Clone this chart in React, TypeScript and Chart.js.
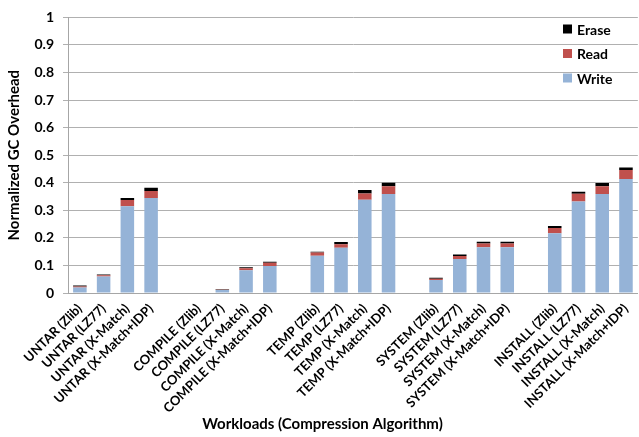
import React, { useEffect, useRef } from "react";
import { Chart, registerables } from "chart.js";

Chart.register(...registerables);

const workloads = ["UNTAR", "COMPILE", "TEMP", "SYSTEM", "INSTALL"];
const algorithms = ["Zlib", "LZ77", "X-Match", "X-Match+IDP"];

// values per workload (4 algorithms each), in order of workloads
const writeValues = [
  0.02, 0.06, 0.315, 0.345,
  0, 0.011, 0.083, 0.098,
  0.135, 0.164, 0.338, 0.359,
  0.047, 0.123, 0.166, 0.166,
  0.217, 0.332, 0.359, 0.414,
];
const readValues = [
  0.004, 0.004, 0.022, 0.025,
  0, 0.001, 0.007, 0.012,
  0.012, 0.013, 0.023, 0.028,
  0.005, 0.011, 0.014, 0.014,
  0.019, 0.028, 0.028, 0.032,
];
const eraseValues = [
  0.003, 0.003, 0.008, 0.012,
  0, 0.002, 0.003, 0.003,
  0.003, 0.008, 0.013, 0.013,
  0.003, 0.006, 0.006, 0.006,
  0.007, 0.007, 0.012, 0.009,
];

const yTicks = [0, 0.1, 0.2, 0.3, 0.4, 0.5, 0.6, 0.7, 0.8, 0.9, 1];

// build labels/data with an empty spacer slot between workload groups
function withSpacers<T>(vals: T[], spacer: T): T[] {
  const out: T[] = [];
  workloads.forEach((_, w) => {
    if (w > 0) out.push(spacer);
    algorithms.forEach((_, a) => out.push(vals[w * algorithms.length + a]));
  });
  return out;
}

const categoryLabels = withSpacers(
  workloads.flatMap((w) => algorithms.map((a) => `${w} (${a})`)),
  ""
);

const FONT = "Lato, 'Open Sans', sans-serif";

const legendPlugin = {
  id: "insideLegend",
  afterDraw(chart: any) {
    const ctx = chart.ctx;
    const ds = chart.data.datasets;
    ctx.save();
    ctx.font = `bold 14px ${FONT}`;
    ctx.textBaseline = "middle";
    ctx.textAlign = "left";
    const order = [...ds].reverse();
    order.forEach((d: any, i: number) => {
      const cy = 29 + i * 24.5;
      ctx.fillStyle = d.backgroundColor;
      ctx.fillRect(563, cy - 4.5, 9, 9);
      ctx.fillStyle = "#000";
      ctx.fillText(d.label, 577, cy + 1);
    });
    ctx.restore();
  },
};

export default function App() {
  const ref = useRef<HTMLCanvasElement>(null);

  useEffect(() => {
    if (!ref.current) return;
    const chart = new Chart(ref.current, {
      type: "bar",
      data: {
        labels: categoryLabels,
        datasets: [
          {
            label: "Write",
            data: withSpacers<number | null>(writeValues, null),
            backgroundColor: "#95B3D7",
          },
          {
            label: "Read",
            data: withSpacers<number | null>(readValues, null),
            backgroundColor: "#C0504D",
          },
          {
            label: "Erase",
            data: withSpacers<number | null>(eraseValues, null),
            backgroundColor: "#000000",
          },
        ],
      },
      options: {
        responsive: false,
        animation: false,
        layout: { padding: { top: 9, left: 0, right: 0, bottom: 0 } },
        datasets: { bar: { categoryPercentage: 1, barPercentage: 0.57 } },
        plugins: {
          legend: { display: false },
          tooltip: { enabled: false },
          title: {
            display: true,
            position: "bottom",
            text: "Workloads (Compression Algorithm)",
            color: "#000",
            font: { family: FONT, size: 15, weight: "bold" },
            padding: { top: 0, bottom: 4 },
          },
        },
        scales: {
          x: {
            stacked: true,
            grid: { display: false, drawTicks: false },
            border: { display: true, color: "#a6a6a6" },
            ticks: {
              autoSkip: false,
              minRotation: 45,
              maxRotation: 45,
              padding: 8,
              color: "#000",
              font: { family: FONT, size: 13, weight: "bold" },
            },
            afterFit(s: any) {
              s.height = 122;
            },
          },
          y: {
            stacked: true,
            min: 0,
            max: 1,
            afterBuildTicks(s: any) {
              s.ticks = yTicks.map((v) => ({ value: v }));
            },
            grid: { color: "#b0b0b0", tickLength: 5 },
            border: { display: true, color: "#a6a6a6" },
            ticks: {
              padding: 9,
              color: "#000",
              font: { family: FONT, size: 14, weight: "bold" },
              callback: (v: any) => String(Math.round(Number(v) * 10) / 10),
            },
            title: {
              display: true,
              text: "Normalized GC Overhead",
              color: "#000",
              font: { family: FONT, size: 15, weight: "bold" },
              padding: { top: 5, bottom: 0 },
            },
            afterFit(s: any) {
              s.width = 68;
            },
          },
        },
      },
      plugins: [legendPlugin],
    });
    return () => chart.destroy();
  }, []);

  return (
    <div
      style={{
        position: "absolute",
        left: 0,
        top: 0,
        width: 639,
        height: 437,
        overflow: "hidden",
        background: "#fff",
      }}
    >
      <canvas ref={ref} width={645} height={437} style={{ display: "block" }} />
    </div>
  );
}
